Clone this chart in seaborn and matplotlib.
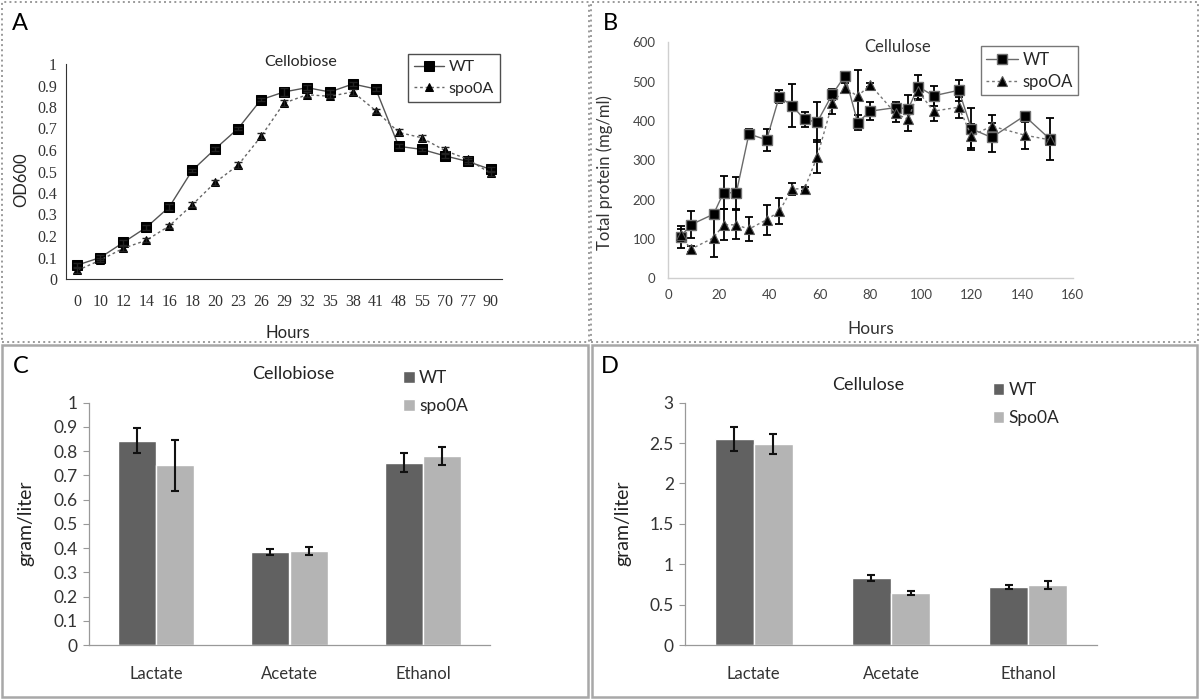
import numpy as np
import pandas as pd
import matplotlib
matplotlib.use("Agg")
import matplotlib.pyplot as plt
import seaborn as sns
from matplotlib.patches import Rectangle

# ---------------- Data ----------------
# Panel A (Cellobiose, OD600)
hours_a = ["0", "10", "12", "14", "16", "18", "20", "23", "26", "29",
           "32", "35", "38", "41", "48", "55", "70", "77", "90"]
od_wt = [0.065, 0.10, 0.17, 0.24, 0.335, 0.505, 0.605, 0.70, 0.834, 0.87,
         0.89, 0.87, 0.907, 0.884, 0.617, 0.603, 0.573, 0.547, 0.51]
od_wt_err = [0.008, 0.01, 0.01, 0.01, 0.012, 0.008, 0.008, 0.008, 0.008, 0.02,
             0.012, 0.01, 0.01, 0.008, 0.01, 0.008, 0.012, 0.01, 0.012]
od_spo = [0.04, 0.088, 0.143, 0.18, 0.247, 0.345, 0.449, 0.53, 0.663, 0.818,
          0.857, 0.85, 0.87, 0.783, 0.682, 0.657, 0.598, 0.557, 0.492]
od_spo_err = [0.01, 0.01, 0.012, 0.01, 0.01, 0.012, 0.012, 0.012, 0.014, 0.015,
              0.012, 0.01, 0.012, 0.01, 0.014, 0.014, 0.018, 0.012, 0.012]
od_ticks = [0, 0.1, 0.2, 0.3, 0.4, 0.5, 0.6, 0.7, 0.8, 0.9, 1]
od_ticklabels = ["0", "0.1", "0.2", "0.3", "0.4", "0.5", "0.6", "0.7", "0.8", "0.9", "1"]

# Panel B (Cellulose, total protein)
hours_b = [5, 9, 18, 22, 27, 32, 39, 44, 49, 54, 59, 65, 70, 75, 80, 90,
           95, 99, 105, 115, 120, 128, 141, 151]
prot_wt = [106, 136, 163, 218, 217, 367, 352, 462, 439, 404, 397, 468, 515,
           396, 425, 434, 431, 487, 464, 478, 380, 358, 413, 354]
prot_wt_err = [28, 34, 8, 42, 40, 13, 28, 17, 54, 20, 51, 14, 10, 20, 23, 15,
               35, 31, 25, 26, 54, 36, 10, 53]
prot_spo = [110, 74, 103, 136, 136, 125, 149, 170, 227, 228, 309, 445, 484,
            463, 492, 419, 404, 475, 425, 435, 362, 387, 364, 352]
prot_spo_err = [15, 8, 50, 39, 37, 30, 38, 33, 15, 5, 42, 28, 12, 66, 5, 22,
                30, 22, 25, 27, 30, 28, 34, 10]

# Panels C and D (fermentation products)
metabolites = ["Lactate", "Acetate", "Ethanol"]
c_wt = [0.843, 0.384, 0.752]
c_wt_err = [0.052, 0.011, 0.039]
c_spo = [0.741, 0.388, 0.781]
c_spo_err = [0.105, 0.016, 0.037]
d_wt = [2.546, 0.833, 0.722]
d_wt_err = [0.148, 0.035, 0.025]
d_spo = [2.488, 0.644, 0.743]
d_spo_err = [0.128, 0.025, 0.045]

# ---------------- Style ----------------
sns.set_style("white")
plt.rcParams["font.family"] = ["Lato", "DejaVu Sans"]

W, H = 1200, 700
fig = plt.figure(figsize=(12, 7), dpi=100)


def rect(x0, y0, x1, y1):
    return [x0 / W, 1 - y1 / H, (x1 - x0) / W, (y1 - y0) / H]


# Panel frames
for (x0, y0, x1, y1, ls, col, lw) in [
        (2, 2, 589, 342, ":", "#9a9a9a", 1.4),
        (591, 2, 1198, 342, ":", "#9a9a9a", 1.4),
        (2, 345, 588, 697, "-", "#a8a8a8", 1.8),
        (592, 345, 1197, 697, "-", "#a8a8a8", 1.8)]:
    fig.add_artist(Rectangle((x0 / W, 1 - y1 / H), (x1 - x0) / W, (y1 - y0) / H,
                             transform=fig.transFigure, fill=False,
                             linestyle=ls, edgecolor=col, linewidth=lw))

# Panel letters
for letter, x, y in [("A", 20, 24), ("B", 610, 24), ("C", 21, 367), ("D", 610, 367)]:
    fig.text(x / W, 1 - y / H, letter, fontsize=17, ha="center", va="center",
             color="black")

# ---------------- Panel A ----------------
axA = fig.add_axes(rect(66, 64, 502, 279))
xa = np.arange(len(hours_a))
dfA = pd.DataFrame({"pos": xa, "wt": od_wt, "spo": od_spo})
sns.lineplot(data=dfA, x="pos", y="wt", ax=axA, color="#555555", linewidth=1.0,
             marker="s", markersize=7, markerfacecolor="black",
             markeredgecolor="black", label="WT", errorbar=None, sort=False)
sns.lineplot(data=dfA, x="pos", y="spo", ax=axA, color="#666666", linewidth=1.0,
             linestyle=(0, (2, 2)), marker="^", markersize=6,
             markerfacecolor="black", markeredgecolor="black", label="spo0A",
             errorbar=None, sort=False)
axA.errorbar(xa, od_wt, yerr=od_wt_err, fmt="none", ecolor="#222222",
             elinewidth=1, capsize=3, capthick=1)
axA.errorbar(xa, od_spo, yerr=od_spo_err, fmt="none", ecolor="#222222",
             elinewidth=1, capsize=3, capthick=1)
axA.set_xlim(-0.5, len(hours_a) - 0.5)
axA.set_ylim(0, 1)
axA.set_xticks(np.arange(-0.5, len(hours_a)), labels=[""] * (len(hours_a) + 1))
axA.set_xticks(xa, labels=hours_a, minor=True)
axA.set_yticks(od_ticks, labels=od_ticklabels)
axA.tick_params(axis="x", which="major", direction="inout", length=8, width=0.8,
                color="#333333")
axA.tick_params(axis="x", which="minor", length=0, pad=11, labelsize=11.5,
                labelcolor="#333333")
axA.tick_params(axis="y", direction="inout", length=7, width=0.8, pad=3,
                labelsize=11.5, labelcolor="#333333", color="#333333")
for lab in axA.get_xticklabels(minor=True) + axA.get_yticklabels():
    lab.set_family(["Liberation Serif", "DejaVu Serif"])
for s in ["top", "right"]:
    axA.spines[s].set_visible(False)
for s in ["left", "bottom"]:
    axA.spines[s].set_color("#333333")
    axA.spines[s].set_linewidth(0.8)
axA.set_xlabel("Hours", fontsize=12)
axA.set_ylabel("OD600", fontsize=12)
axA.xaxis.set_label_coords(0.509, -0.215)
axA.yaxis.set_label_coords(-0.085, 0.46)
axA.text(0.537, 1.01, "Cellobiose", transform=axA.transAxes, ha="center",
         va="center", fontsize=11.5)
legA = axA.legend(loc="upper left", bbox_to_anchor=(0.765, 1.085), frameon=True,
                  fancybox=False, fontsize=11.5, handlelength=1.9,
                  handletextpad=0.25, borderpad=0.4, labelspacing=0.45)
legA.get_frame().set_edgecolor("#222222")
legA.get_frame().set_linewidth(1.0)

# ---------------- Panel B ----------------
axB = fig.add_axes(rect(668, 42.3, 1072.6, 278.3))
dfB = pd.DataFrame({"hours": hours_b, "wt": prot_wt, "spo": prot_spo})
axB.errorbar(hours_b, prot_wt, yerr=prot_wt_err, fmt="none", ecolor="black",
             elinewidth=1.3, capsize=3, capthick=1.3, zorder=3)
axB.errorbar(hours_b, prot_spo, yerr=prot_spo_err, fmt="none", ecolor="black",
             elinewidth=1.3, capsize=3, capthick=1.3, zorder=3)
sns.lineplot(data=dfB, x="hours", y="wt", ax=axB, color="#6a6a6a", linewidth=1.0,
             marker="s", markersize=7.5, markerfacecolor="black",
             markeredgecolor="#707070", markeredgewidth=1.0, label="WT",
             errorbar=None, sort=False, zorder=4)
sns.lineplot(data=dfB, x="hours", y="spo", ax=axB, color="#777777", linewidth=1.0,
             linestyle=(0, (2, 2)), marker="^", markersize=7,
             markerfacecolor="black", markeredgecolor="#555555",
             markeredgewidth=0.8, label="spoOA", errorbar=None, sort=False,
             zorder=4)
axB.set_xlim(0, 160)
axB.set_ylim(0, 600)
axB.set_xticks(np.arange(0, 161, 20))
axB.set_yticks(np.arange(0, 601, 100))
axB.tick_params(axis="both", length=0, labelsize=9.5, labelcolor="#444444")
axB.tick_params(axis="y", pad=9)
axB.tick_params(axis="x", pad=8)
for s in ["top", "right"]:
    axB.spines[s].set_visible(False)
for s in ["left", "bottom"]:
    axB.spines[s].set_color("#cfcfcf")
    axB.spines[s].set_linewidth(1.0)
axB.set_xlabel("Hours", fontsize=12.5, color="#333333")
axB.set_ylabel("Total protein (mg/ml)", fontsize=12, color="#333333")
axB.xaxis.set_label_coords(0.5, -0.18)
axB.yaxis.set_label_coords(-0.136, 0.446)
axB.text(0.568, 0.98, "Cellulose", transform=axB.transAxes, ha="center",
         va="center", fontsize=12, color="#333333")
legB = axB.legend(loc="upper left", bbox_to_anchor=(0.752, 1.02), frameon=True,
                  fancybox=False, fontsize=12, handlelength=1.9,
                  handletextpad=0.25, borderpad=0.35, labelspacing=0.35)
legB.get_frame().set_edgecolor("#555555")
legB.get_frame().set_linewidth(1.0)

# ---------------- Panels C & D ----------------
dark, light = "#616161", "#b4b4b4"


def bar_panel(rectpx, wt, wt_err, spo, spo_err, strains, ylim, yticks, yticklabels,
              title, title_xy, leg_anchor):
    ax = fig.add_axes(rect(*rectpx))
    df = pd.DataFrame({
        "metabolite": metabolites * 2,
        "value": list(wt) + list(spo),
        "strain": [strains[0]] * 3 + [strains[1]] * 3,
    })
    sns.barplot(data=df, x="metabolite", y="value", hue="strain",
                hue_order=strains, order=metabolites, palette=[dark, light],
                width=0.57, gap=0, errorbar=None, saturation=1, ax=ax)
    for cont, err in zip(ax.containers, [wt_err, spo_err]):
        xs = [p.get_x() + p.get_width() / 2 for p in cont.patches]
        hs = [p.get_height() for p in cont.patches]
        ax.errorbar(xs, hs, yerr=err, fmt="none", ecolor="#111111",
                    elinewidth=1.5, capsize=3, capthick=1.5, zorder=5)
    ax.set_xlim(-0.5, 2.5)
    ax.set_ylim(*ylim)
    ax.set_yticks(yticks, labels=yticklabels)
    ax.tick_params(axis="x", length=0, pad=15, labelsize=12, labelcolor="#333333")
    ax.tick_params(axis="y", direction="out", length=4, width=0.8, pad=4,
                   labelsize=12.5, labelcolor="#333333", color="#999999", left=True)
    for s in ["top", "right"]:
        ax.spines[s].set_visible(False)
    for s in ["left", "bottom"]:
        ax.spines[s].set_color("#999999")
        ax.spines[s].set_linewidth(0.9)
    ax.set_xlabel("")
    ax.set_ylabel("gram/liter", fontsize=14, color="#222222")
    ax.text(title_xy[0], title_xy[1], title, transform=ax.transAxes, ha="center",
            va="center", fontsize=13, color="#222222")
    ax.legend(loc="upper left", bbox_to_anchor=leg_anchor, frameon=False,
              fontsize=12.5, handlelength=0.65, handleheight=0.65,
              handletextpad=0.25, labelspacing=0.7, title=None)
    return ax


axC = bar_panel((89, 402.7, 490, 645), c_wt, c_wt_err, c_spo, c_spo_err,
                ["WT", "spo0A"], (0, 1),
                [0, 0.1, 0.2, 0.3, 0.4, 0.5, 0.6, 0.7, 0.8, 0.9, 1],
                ["0", "0.1", "0.2", "0.3", "0.4", "0.5", "0.6", "0.7", "0.8", "0.9", "1"],
                "Cellobiose", (0.51, 1.12), (0.745, 1.2))
axC.yaxis.set_label_coords(-0.135, 0.503)

axD = bar_panel((685, 402.7, 1097, 645), d_wt, d_wt_err, d_spo, d_spo_err,
                ["WT", "Spo0A"], (0, 3),
                [0, 0.5, 1, 1.5, 2, 2.5, 3],
                ["0", "0.5", "1", "1.5", "2", "2.5", "3"],
                "Cellulose", (0.445, 1.075), (0.71, 1.15))
axD.yaxis.set_label_coords(-0.13, 0.503)

fig.savefig("out.png", dpi=100, facecolor="white")
